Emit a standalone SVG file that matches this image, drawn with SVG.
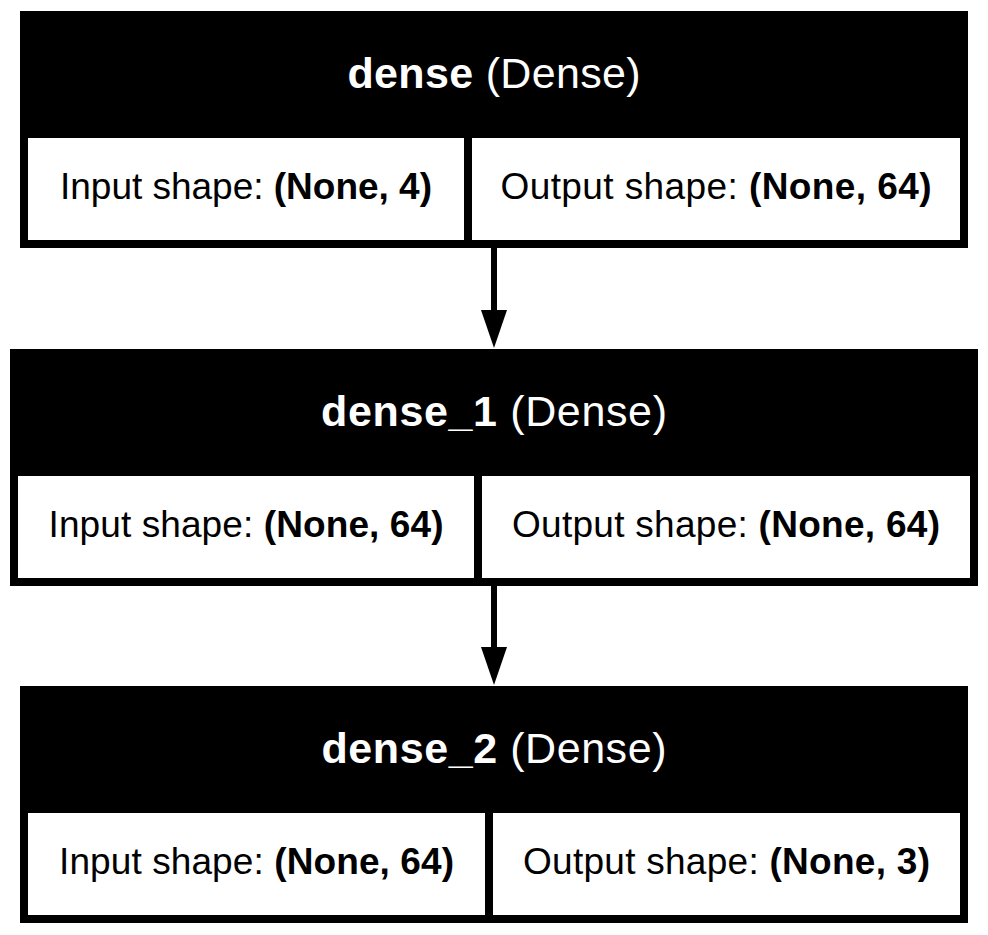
<svg xmlns="http://www.w3.org/2000/svg" width="988" height="935" viewBox="0 0 988 935">
<style>
.outer{fill:#000;}
.cell{fill:#fff;}
.hdr{font-family:"Liberation Sans",Arial,sans-serif;font-size:43px;fill:#fff;text-anchor:middle;}
.txt{font-family:"Liberation Sans",Arial,sans-serif;font-size:37px;fill:#000;text-anchor:middle;}
.b{font-weight:bold;}
.edge{stroke:#000;stroke-width:6;fill:none;}
.head{fill:#000;}
</style>
<rect width="988" height="935" fill="#fff"/>
<g id="dense">
<rect class="outer" x="20" y="11" width="948" height="237"/>
<rect class="cell" x="28" y="138" width="436" height="102"/>
<rect class="cell" x="472" y="138" width="488" height="102"/>
<text class="hdr" x="494" y="88" textLength="293" lengthAdjust="spacing"><tspan class="b">dense</tspan> (Dense)</text>
<text class="txt" x="246" y="199" textLength="372" lengthAdjust="spacing">Input shape: <tspan class="b">(None, 4)</tspan></text>
<text class="txt" x="716" y="199" textLength="431" lengthAdjust="spacing">Output shape: <tspan class="b">(None, 64)</tspan></text>
</g>
<g id="dense_1">
<rect class="outer" x="10" y="349" width="968" height="237"/>
<rect class="cell" x="18" y="476" width="456" height="102"/>
<rect class="cell" x="482" y="476" width="488" height="102"/>
<text class="hdr" x="494" y="426" textLength="346" lengthAdjust="spacing"><tspan class="b">dense_1</tspan> (Dense)</text>
<text class="txt" x="246" y="537" textLength="395" lengthAdjust="spacing">Input shape: <tspan class="b">(None, 64)</tspan></text>
<text class="txt" x="726" y="537" textLength="428" lengthAdjust="spacing">Output shape: <tspan class="b">(None, 64)</tspan></text>
</g>
<g id="dense_2">
<rect class="outer" x="20" y="686" width="948" height="237"/>
<rect class="cell" x="28" y="813" width="457" height="102"/>
<rect class="cell" x="493" y="813" width="467" height="102"/>
<text class="hdr" x="494" y="763" textLength="345" lengthAdjust="spacing"><tspan class="b">dense_2</tspan> (Dense)</text>
<text class="txt" x="256.5" y="874" textLength="395" lengthAdjust="spacing">Input shape: <tspan class="b">(None, 64)</tspan></text>
<text class="txt" x="726.5" y="874" textLength="407" lengthAdjust="spacing">Output shape: <tspan class="b">(None, 3)</tspan></text>
</g>
<g id="connectors">
<line class="edge" x1="494" y1="248" x2="494" y2="312"/>
<polygon class="head" points="481,310 507,310 494,348"/>
<line class="edge" x1="494" y1="586" x2="494" y2="649"/>
<polygon class="head" points="481,647 507,647 494,685"/>
</g>
</svg>
